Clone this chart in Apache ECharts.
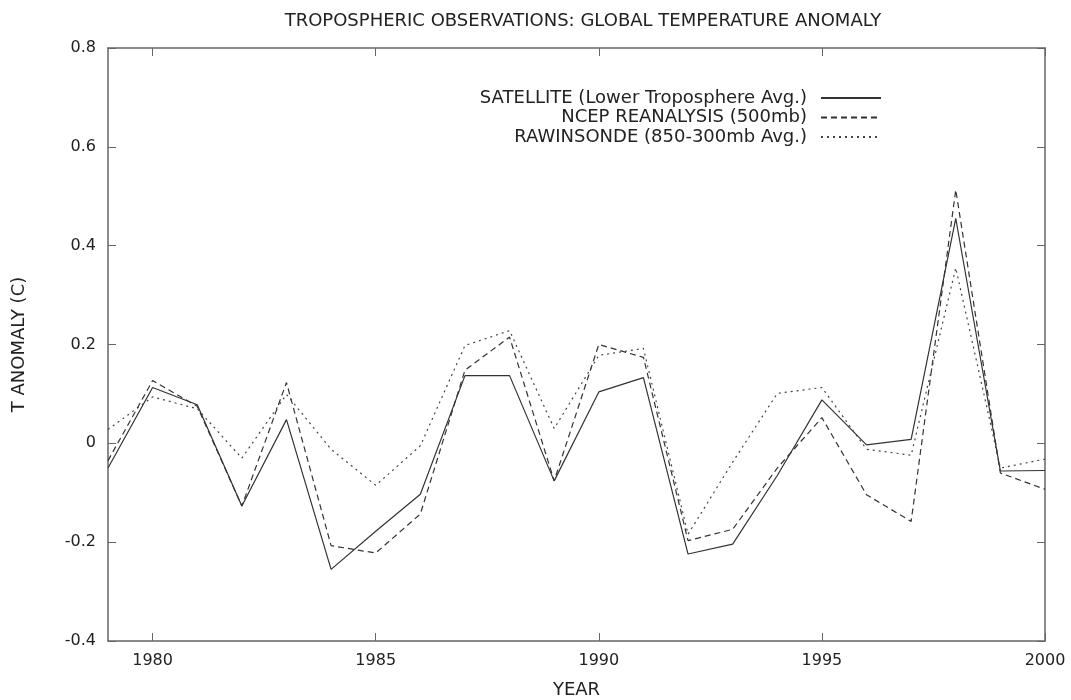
<!DOCTYPE html>
<html>
<head>
<meta charset="utf-8">
<script src="https://cdn.jsdelivr.net/npm/echarts@6/dist/echarts.min.js"></script>
<style>html,body{margin:0;padding:0;background:#fff}#c{width:1071px;height:700px}</style>
</head>
<body>
<div id="c"></div>
<script>
const years = [1979,1980,1981,1982,1983,1984,1985,1986,1987,1988,1989,1990,1991,1992,1993,1994,1995,1996,1997,1998,1999,2000];
const satellite = [-0.050,0.113,0.078,-0.127,0.048,-0.255,-0.178,-0.103,0.137,0.137,-0.076,0.104,0.133,-0.224,-0.204,-0.065,0.088,-0.003,0.008,0.455,-0.056,-0.055];
const ncep = [-0.035,0.127,0.075,-0.127,0.123,-0.207,-0.222,-0.143,0.148,0.215,-0.076,0.200,0.174,-0.197,-0.174,-0.050,0.052,-0.104,-0.158,0.513,-0.060,-0.093];
const rawinsonde = [0.028,0.094,0.070,-0.030,0.099,-0.012,-0.085,-0.005,0.198,0.228,0.030,0.178,0.192,-0.184,-0.038,0.101,0.113,-0.012,-0.024,0.355,-0.050,-0.032];
const seriesNames = ['SATELLITE (Lower Troposphere Avg.)','NCEP REANALYSIS (500mb)','RAWINSONDE (850-300mb Avg.)'];
const yTicks = [-0.4,-0.2,0,0.2,0.4,0.6,0.8];
const xTicks = [1980,1985,1990,1995,2000];

const FONT = 'DejaVu Sans';
const TXT = '#222';
const pair = arr => years.map((y,i)=>[y,arr[i]]);
const chart = echarts.init(document.getElementById('c'), null, {renderer:'canvas'});
const axisLineStyle = {show:true, onZero:false, lineStyle:{color:'#666', width:1.5}};
const xTick = {show:true, inside:true, length:8, customValues:xTicks, lineStyle:{color:'#666', width:1}};
const yTick = {show:true, inside:true, length:8, customValues:yTicks, lineStyle:{color:'#666', width:1}};
chart.setOption({
  animation:false,
  backgroundColor:'#fff',
  title:{
    text:'TROPOSPHERIC OBSERVATIONS: GLOBAL TEMPERATURE ANOMALY',
    left:578, top:7, textAlign:'center',
    textStyle:{fontFamily:FONT, fontSize:18, fontWeight:'normal', color:TXT}
  },
  grid:{left:108, right:26, top:48, bottom:59, show:false, outerBoundsMode:'none', containLabel:false},
  legend:{
    data:seriesNames, orient:'vertical', align:'right', padding:0,
    right:189, top:89, itemWidth:60, itemHeight:14, itemGap:1.5,
    textStyle:{fontFamily:FONT, fontSize:18, lineHeight:18, color:TXT, padding:[0,9,0,0]},
    itemStyle:{opacity:0}
  },
  xAxis:[{
    type:'value', min:1979, max:2000, position:'bottom',
    name:'YEAR', nameLocation:'middle', nameGap:40,
    nameTextStyle:{fontFamily:FONT, fontSize:18, color:TXT},
    axisLine:axisLineStyle, axisTick:xTick, splitLine:{show:false},
    axisLabel:{fontFamily:FONT, fontSize:16, color:TXT, margin:12, customValues:xTicks,
      formatter:v => String(v)}
  },{
    type:'value', min:1979, max:2000, position:'top',
    axisLine:axisLineStyle, axisTick:xTick, splitLine:{show:false},
    axisLabel:{show:false}
  }],
  yAxis:[{
    type:'value', min:-0.4, max:0.8, position:'left',
    name:'T ANOMALY (C)', nameLocation:'middle', nameGap:80, nameRotate:90,
    nameTextStyle:{fontFamily:FONT, fontSize:18, color:TXT},
    axisLine:axisLineStyle, axisTick:yTick, splitLine:{show:false},
    axisLabel:{fontFamily:FONT, fontSize:16, color:TXT, margin:12, customValues:yTicks,
      formatter:v => { const r = Math.round(v*10)/10; return r === 0 ? '0' : String(r); }}
  },{
    type:'value', min:-0.4, max:0.8, position:'right',
    axisLine:axisLineStyle, axisTick:yTick, splitLine:{show:false},
    axisLabel:{show:false}
  }],
  series:[
    {name:seriesNames[0], type:'line', data:pair(satellite), symbol:'none',
     lineStyle:{color:'#333', width:1.2, type:'solid'}, itemStyle:{color:'#333'}},
    {name:seriesNames[1], type:'line', data:pair(ncep), symbol:'none',
     lineStyle:{color:'#333', width:1.2, type:[6,4]}, itemStyle:{color:'#333'}},
    {name:seriesNames[2], type:'line', data:pair(rawinsonde), symbol:'none',
     lineStyle:{color:'#444', width:1.2, type:[2,4]}, itemStyle:{color:'#444'}}
  ]
});
</script>
</body>
</html>
